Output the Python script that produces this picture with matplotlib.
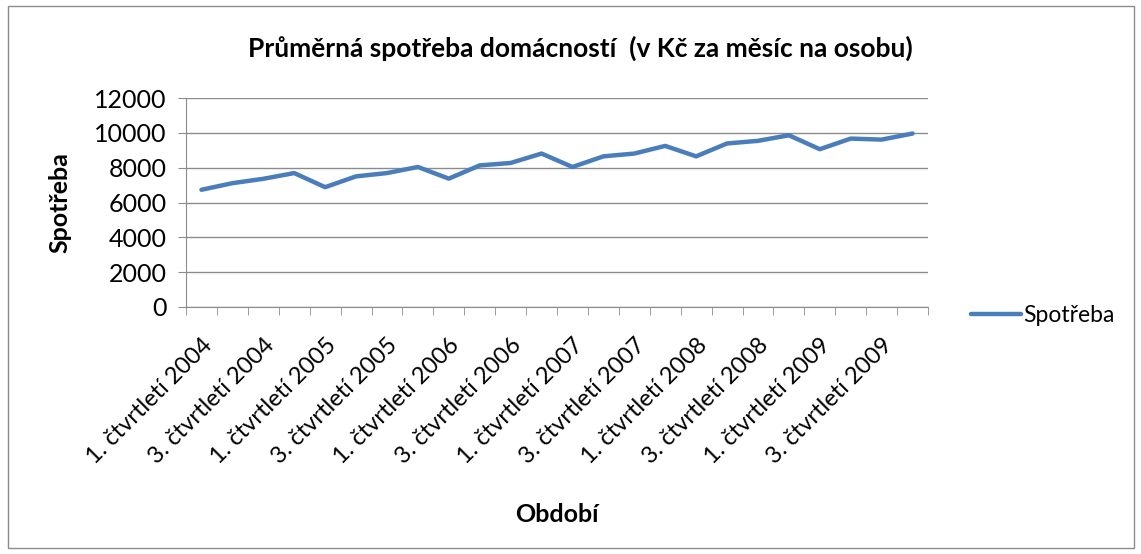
import matplotlib.pyplot as plt
from matplotlib.patches import Rectangle

plt.rcParams['font.family'] = ['Lato', 'DejaVu Sans']

# čtvrtletí 2004 - 2009
kvartaly = [f'{q}. čtvrtletí {rok}' for rok in range(2004, 2010) for q in range(1, 5)]
spotreba = [6730, 7110, 7360, 7690, 6880, 7500, 7690, 8040, 7370, 8130, 8270, 8810,
            8040, 8650, 8810, 9250, 8650, 9390, 9540, 9860, 9060, 9670, 9610, 9960]
y_ticks = [0, 2000, 4000, 6000, 8000, 10000, 12000]

fig = plt.figure(figsize=(11.41, 5.54), dpi=100)
ax = fig.add_axes([186 / 1141, 1 - 307 / 554, (928 - 186) / 1141, (307 - 98) / 554])

x = [i + 0.5 for i in range(len(spotreba))]
ax.plot(x, spotreba, color='#4a7ebb', linewidth=3.2, label='Spotřeba',
        solid_joinstyle='round', solid_capstyle='round')

ax.set_xlim(0, len(spotreba))
ax.set_ylim(0, 12000)
ax.set_yticks(y_ticks)
ax.set_yticklabels([str(v) for v in y_ticks], fontsize=18)
ax.yaxis.grid(True, color='#8c8c8c', linewidth=1)
ax.set_axisbelow(True)

# popisky jen u každého druhého čtvrtletí
ax.set_xticks(x[::2])
ax.set_xticklabels(kvartaly[::2], rotation=45, ha='right', rotation_mode='anchor', fontsize=17)
ax.tick_params(axis='x', which='major', length=0, pad=20)
ax.set_xticks(range(len(spotreba) + 1), minor=True)
ax.tick_params(axis='x', which='minor', length=6, color='#8c8c8c', direction='out')
ax.tick_params(axis='y', length=6, color='#8c8c8c', direction='out', pad=8)

for s in ['top', 'right']:
    ax.spines[s].set_visible(False)
for s in ['left', 'bottom']:
    ax.spines[s].set_color('#8c8c8c')

fig.text(580 / 1141, 1 - 48 / 554,
         'Průměrná spotřeba domácností  (v Kč za měsíc na osobu)',
         ha='center', va='center', fontsize=19, fontweight='bold')
fig.text(60 / 1141, 1 - 203 / 554, 'Spotřeba', rotation=90, ha='center', va='center',
         fontsize=18, fontweight='bold')
fig.text(557 / 1141, 1 - 515 / 554, 'Období', ha='center', va='center',
         fontsize=18, fontweight='bold')

ax.legend(loc='center left', bbox_to_anchor=(1.03, -0.04), frameon=False, fontsize=16.5,
          handlelength=2.2, handletextpad=0.1)

fig.patches.append(Rectangle((8 / 1141, 6 / 554), 1126 / 1141, 542 / 554, transform=fig.transFigure,
                             fill=False, edgecolor='#8c8c8c', linewidth=1))

fig.savefig('out.png', dpi=100)
